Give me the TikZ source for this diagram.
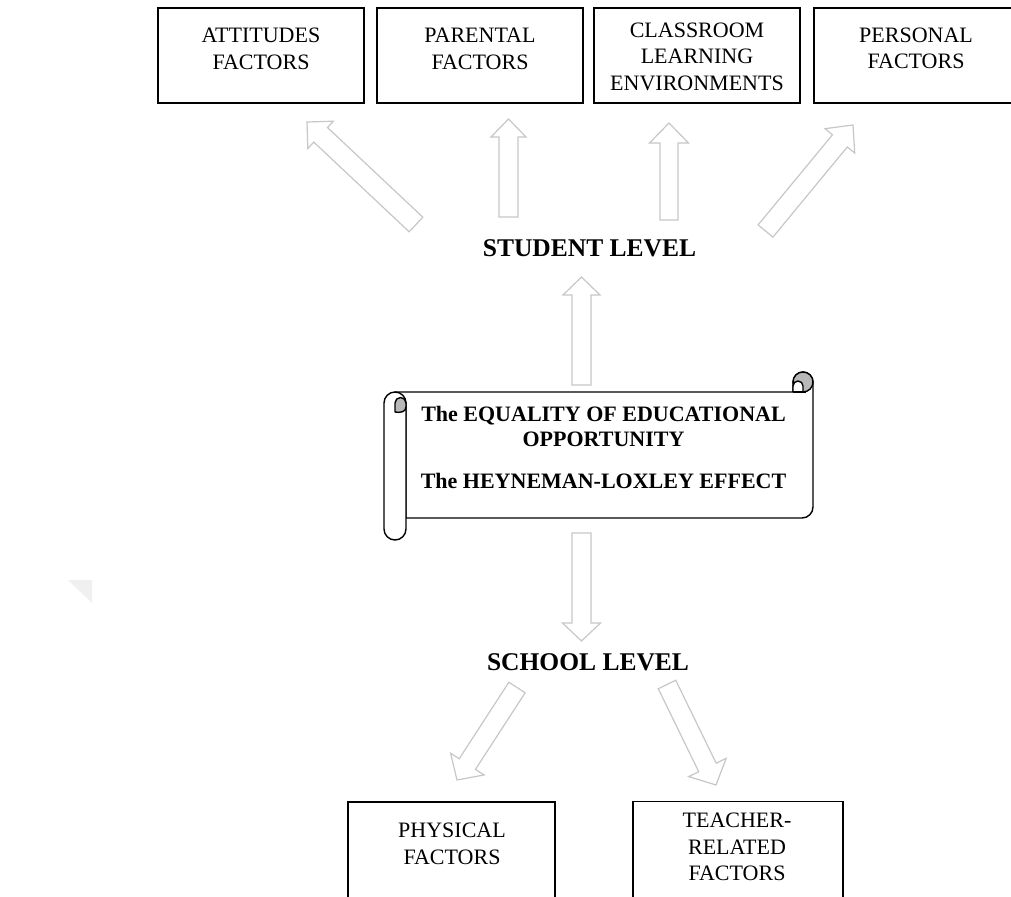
\documentclass[tikz,border=0pt]{standalone}
\usepackage{fontspec}
\setmainfont{Liberation Serif}
\usetikzlibrary{calc}
\tikzset{
  box/.style={draw=black, line width=1.3pt, fill=white, inner sep=0pt},
  lbl/.style={align=center, inner sep=0pt, anchor=north, font=\fontsize{22}{26.5}\selectfont},
  lvl/.style={inner sep=0pt, anchor=base, font=\bfseries\fontsize{25.5}{30}\selectfont},
  scrtxt/.style={align=center, inner sep=0pt, font=\bfseries\fontsize{22}{25}\selectfont},
  barr/.style={draw=black!22, line width=1.2pt, fill=white, line join=miter},
  scrline/.style={draw=black, line width=1.4pt, line join=round},
}
% #1 tail, #2 tip, #3 half shaft width, #4 half head width, #5 head length
\newcommand{\blockarrow}[5]{%
  \path ($(#2)!#5!(#1)$) coordinate (hb);
  \draw[barr] ($(#1)!#3!90:(#2)$)
    -- ($(hb)!#3!-90:(#1)$)
    -- ($(hb)!#4!-90:(#1)$)
    -- (#2)
    -- ($(hb)!#4!90:(#1)$)
    -- ($(hb)!#3!90:(#1)$)
    -- ($(#1)!#3!-90:(#2)$)
    -- cycle;
}
\begin{document}
\begin{tikzpicture}[x=1pt,y=1pt]
\useasboundingbox (0,0) rectangle (1011,-896);
\fill[white] (0,0) rectangle (1011,-896);
\clip (0,0) rectangle (1011,-896);

% faint watermark corner
\fill[black!6] (68,-580) -- (92,-580) -- (92,-603) -- cycle;

% top boxes
\node[box, minimum width=206pt, minimum height=95pt] (att) at (261,-55.5) {};
\node[box, minimum width=206pt, minimum height=95pt] (par) at (480,-55.5) {};
\node[box, minimum width=206pt, minimum height=95pt] (cls) at (697,-55.5) {};
\node[box, minimum width=206pt, minimum height=95pt] (per) at (917,-55.5) {};
\node[lbl] (attL) at (261,-28) {ATTITUDES\\FACTORS};
\node[lbl] (parL) at (480,-28) {PARENTAL\\FACTORS};
\node[lbl] (clsL) at (697,-22.5) {CLASSROOM\\LEARNING\\ENVIRONMENTS};
\node[lbl] (perL) at (916,-27.5) {PERSONAL\\FACTORS};

% bottom boxes
\node[box, minimum width=207pt, minimum height=110pt] (phy) at (451.5,-857) {};
\node[box, minimum width=210pt, minimum height=110pt] (tch) at (738,-856.5) {};
\node[lbl] (phyL) at (452,-823) {PHYSICAL\\FACTORS};
\node[lbl] (tchL) at (737,-813) {TEACHER-\\RELATED\\FACTORS};

% level labels
\node[lvl] (stud) at (589.5,-256) {STUDENT LEVEL};
\node[lvl] (schl) at (588,-670) {SCHOOL LEVEL};

% arrow end coordinates
\coordinate (a1t) at (416,-224.5); \coordinate (a1h) at (307,-122);
\coordinate (a2t) at (508.5,-217); \coordinate (a2h) at (508.5,-119);
\coordinate (a3t) at (669,-220);   \coordinate (a3h) at (669,-123);
\coordinate (a4t) at (765.5,-231); \coordinate (a4h) at (853,-125);
\coordinate (a5t) at (581.5,-385); \coordinate (a5h) at (581.5,-277);
\coordinate (a6t) at (581.5,-533); \coordinate (a6h) at (581.5,-641);
\coordinate (a7t) at (517,-687.5); \coordinate (a7h) at (457,-780);
\coordinate (a8t) at (667,-684.5); \coordinate (a8h) at (716,-785);

\blockarrow{a1t}{a1h}{10pt}{18.7pt}{18.7pt}
\blockarrow{a2t}{a2h}{9.5pt}{17.5pt}{18pt}
\blockarrow{a3t}{a3h}{9pt}{19.5pt}{20pt}
\blockarrow{a4t}{a4h}{9.6pt}{19.2pt}{20.6pt}
\blockarrow{a5t}{a5h}{9.5pt}{18.5pt}{18pt}
\blockarrow{a6t}{a6h}{9.5pt}{19pt}{18pt}
\blockarrow{a7t}{a7h}{9.7pt}{20pt}{19pt}
\blockarrow{a8t}{a8h}{9.7pt}{20.8pt}{19.5pt}

% scroll
\filldraw[scrline, fill=white] (395,-392) -- (793,-392) -- (793,-382)
  arc[start angle=180, end angle=0, radius=10]
  -- (813,-507) arc[start angle=0, end angle=-90, radius=11]
  -- (406,-518) -- (406,-403) -- cycle;
\filldraw[scrline, fill=black!28] (803,-382) circle (10);
\filldraw[scrline, fill=white] (793,-392) -- (793,-386)
  arc[start angle=180, end angle=0, radius=5] -- (803,-392);
\draw[scrline] (793,-392) -- (806,-392);
% left roll
\filldraw[scrline, fill=white] (384,-403) arc[start angle=180, end angle=0, radius=11]
  -- (406,-529) arc[start angle=0, end angle=-180, radius=11] -- cycle;
\filldraw[scrline, fill=black!28] (395,-412) -- (395,-403)
  arc[start angle=180, end angle=0, radius=5.5]
  -- (406,-407) .. controls (406,-412) and (400,-413) .. (395,-412) -- cycle;

\node[scrtxt, anchor=north] (scr1) at (603.5,-406) {The EQUALITY OF EDUCATIONAL\\OPPORTUNITY};
\node[scrtxt, anchor=base] (scr2) at (603.5,-488) {The HEYNEMAN-LOXLEY EFFECT};
\end{tikzpicture}
\end{document}
